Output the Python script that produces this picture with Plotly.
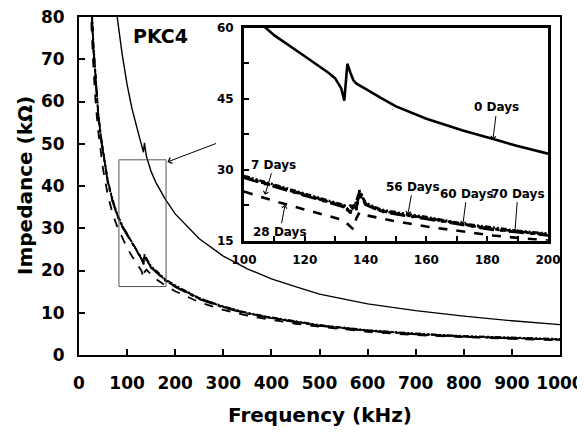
import plotly.graph_objects as go

# ---------------- data ----------------
# Inset (fine frequency sampling around the resonance)
freq_khz = [100, 110, 120, 128, 130, 132, 133, 134, 135, 136, 137, 138, 140, 145, 150, 160,
            172, 182, 190, 200, 210]

z_0_days = [64, 58.4, 54, 50.4, 49.3, 47.2, 44.6, 52.4, 50.5, 48.9, 48.2, 47.8, 47.1, 45.2,
            43.4, 40.8, 38.3, 36.5, 35.0, 33.4, 31.8]
z_7_days = [28.5, 26.6, 24.8, 23.2, 22.9, 22.5, 22.3, 21.6, 20.8, 23.0, 21.5, 25.7, 22.8, 21.4,
            20.8, 19.8, 18.5, 17.5, 17.0, 16.3, 15.6]
z_28_days = [25.4, 23.4, 21.6, 20.2, 19.9, 19.5, 19.2, 18.6, 18.0, 17.4, 19.8, 21.0, 20.4, 19.7,
             19.1, 18.0, 16.9, 16.1, 15.6, 15.1, 14.5]
z_56_days = [28.3, 26.4, 24.6, 23.0, 22.7, 22.3, 22.1, 21.4, 21.2, 22.6, 21.9, 25.2, 22.6, 21.2,
             20.6, 19.6, 18.3, 17.3, 16.8, 16.1, 15.4]
z_60_days = [28.7, 26.8, 25.0, 23.4, 23.1, 22.7, 22.5, 21.8, 22.4, 21.6, 23.6, 25.4, 23.0, 21.6,
             21.0, 20.0, 18.6, 17.7, 17.1, 16.5, 15.8]
z_70_days = [28.4, 26.5, 24.7, 23.1, 22.8, 22.4, 22.2, 21.5, 21.9, 22.2, 22.6, 24.8, 22.7, 21.3,
             20.7, 19.7, 18.4, 17.4, 16.9, 16.2, 15.5]

# Main plot (coarser sampling over the full range)
freq_main = [20, 25, 30, 35, 40, 45, 50, 60, 70, 80, 90, 100, 110, 120, 130, 134, 136, 140,
             150, 160, 180, 200, 250, 300, 350, 400, 450, 500, 600, 700, 800, 900, 1000]

zm_0_days = [280, 230, 195, 168, 148, 132, 119, 100, 88, 79, 71, 64, 58.4, 54, 49.6, 48.0, 50.2,
             47.1, 43.4, 40.8, 36.8, 33.4, 27.5, 23.4, 20.4, 18.0, 16.2, 14.4, 12.1, 10.5, 9.2,
             8.1, 7.2]
zm_7_days = [110, 85, 73, 64, 57, 52, 48, 41, 36.5, 33, 30.5, 28.5, 26.6, 24.8, 22.9, 21.4, 23.6,
             22.6, 20.8, 19.8, 17.7, 16.3, 13.4, 11.4, 9.9, 8.8, 7.9, 7.0, 5.8, 5.0, 4.4, 4.0, 3.7]
zm_28_days = [100, 80, 68, 59, 53, 48, 44, 37.8, 33.4, 30.2, 27.6, 25.4, 23.4, 21.6, 19.9, 18.2,
              19.6, 20.2, 19.1, 18.0, 16.4, 15.1, 12.5, 10.7, 9.3, 8.3, 7.4, 6.7, 5.5, 4.7, 4.2,
              3.8, 3.5]
zm_56_days = [108, 84, 72, 63, 56.5, 51.5, 47.6, 40.7, 36.2, 32.8, 30.3, 28.3, 26.4, 24.6, 22.7,
              21.6, 23.1, 22.4, 20.6, 19.6, 17.5, 16.1, 13.2, 11.2, 9.8, 8.7, 7.8, 6.9, 5.7, 4.9,
              4.3, 3.9, 3.6]
zm_60_days = [112, 86, 74, 65, 57.5, 52.5, 48.3, 41.3, 36.8, 33.2, 30.7, 28.7, 26.8, 25.0, 23.1,
              22.0, 23.8, 22.9, 21.0, 20.0, 17.9, 16.5, 13.5, 11.5, 10.0, 8.9, 8.0, 7.1, 5.9, 5.1,
              4.5, 4.1, 3.8]
zm_70_days = [109, 84.5, 72.5, 63.5, 56.8, 51.8, 47.8, 40.9, 36.4, 32.9, 30.4, 28.4, 26.5, 24.7,
              22.8, 21.8, 23.3, 22.5, 20.7, 19.7, 17.6, 16.2, 13.3, 11.3, 9.85, 8.75, 7.85, 6.95,
              5.75, 4.95, 4.35, 3.95, 3.65]

series_names = ["0 Days", "7 Days", "28 Days", "56 Days", "60 Days", "70 Days"]
inset_values = [z_0_days, z_7_days, z_28_days, z_56_days, z_60_days, z_70_days]
main_values = [zm_0_days, zm_7_days, zm_28_days, zm_56_days, zm_60_days, zm_70_days]
series_dash = ["solid", "dashdot", "dash", "longdashdot", "6px,2px,2px,2px,2px,2px", "dot"]
main_width = [1.4, 1.8, 1.8, 1.8, 1.8, 1.8]

main_x_ticks = [0, 100, 200, 300, 400, 500, 600, 700, 800, 900, 1000]
main_y_ticks = [0, 10, 20, 30, 40, 50, 60, 70, 80]
inset_x_ticks = [100, 110, 120, 130, 140, 150, 160, 170, 180, 190, 200]
inset_x_labels = ["100", "", "120", "", "140", "", "160", "", "180", "", "200"]
inset_y_ticks = [15, 22.5, 30, 37.5, 45, 52.5, 60]
inset_y_labels = ["15", "", "30", "", "45", "", "60"]

# zoom box drawn on the main plot (kHz, kOhm)
zoom_box_x = [83, 181]
zoom_box_y = [16.2, 46.2]

# label arrow tips in the inset: (name, freq, impedance, ax, ay)
inset_labels = [("0 Days", 181.9, 36.4, 4, -32),
                ("7 Days", 106.9, 24.7, 9, -30),
                ("28 Days", 113.5, 22.6, -5, 27),
                ("56 Days", 153.9, 20.5, 5, -28),
                ("60 Days", 172.0, 18.4, 4, -31),
                ("70 Days", 189.1, 16.7, 3, -39)]

FONT = "DejaVu Sans"

fig = go.Figure()

for name, vals, dash, w in zip(series_names, main_values, series_dash, main_width):
    fig.add_trace(go.Scatter(x=freq_main, y=vals, mode="lines", name=name,
                             line=dict(color="black", width=w, dash=dash),
                             xaxis="x", yaxis="y", showlegend=False))
for name, vals, dash in zip(series_names, inset_values, series_dash):
    fig.add_trace(go.Scatter(x=freq_khz, y=vals, mode="lines", name=name,
                             line=dict(color="black", width=2.6, dash=dash),
                             xaxis="x2", yaxis="y2", showlegend=False))

fig.update_layout(
    width=585, height=433,
    margin=dict(l=71, r=33, t=9, b=86),
    paper_bgcolor="white", plot_bgcolor="white",
    font=dict(family=FONT, color="black"),
    xaxis=dict(domain=[0, 1], range=[0, 1000], tickvals=main_x_ticks,
               ticks="inside", ticklen=6, tickwidth=1.5, tickcolor="black",
               showline=True, linecolor="black", linewidth=2, mirror=True,
               showgrid=False, zeroline=False, ticklabelstandoff=12, automargin=False,
               ticklabeloverflow="allow",
               tickfont=dict(family=FONT, size=17, weight="bold")),
    yaxis=dict(domain=[0, 1], range=[0, 80], tickvals=main_y_ticks,
               ticks="inside", ticklen=6, tickwidth=1.5, tickcolor="black",
               showline=True, linecolor="black", linewidth=2, mirror=True,
               showgrid=False, zeroline=False, ticklabelstandoff=9, automargin=False,
               ticklabeloverflow="allow",
               tickfont=dict(family=FONT, size=17, weight="bold")),
    xaxis2=dict(domain=[0.343, 0.975], anchor="y2", range=[100, 200],
                tickvals=inset_x_ticks, ticktext=inset_x_labels,
                ticks="inside", ticklen=5, tickwidth=1.5, tickcolor="black",
                showline=True, linecolor="black", linewidth=3, mirror=True,
                showgrid=False, zeroline=False, ticklabelstandoff=6, automargin=False,
                tickfont=dict(family=FONT, size=12, weight="bold")),
    yaxis2=dict(domain=[0.338, 0.968], anchor="x2", range=[15, 60],
                tickvals=inset_y_ticks, ticktext=inset_y_labels,
                ticks="inside", ticklen=5, tickwidth=1.5, tickcolor="black",
                showline=True, linecolor="black", linewidth=3, mirror=True,
                showgrid=False, zeroline=False, ticklabelstandoff=5, automargin=False,
                tickfont=dict(family=FONT, size=12, weight="bold")),
)

# axis titles
fig.add_annotation(xref="paper", yref="paper", x=0.5, y=(354 - 414) / 340,
                   text="Frequency (kHz)", showarrow=False, xanchor="center", yanchor="middle",
                   font=dict(family=FONT, size=20, weight="bold"))
fig.add_annotation(xref="paper", yref="paper", x=(25 - 79) / 481, y=0.5,
                   text="Impedance (kΩ)", showarrow=False, textangle=-90,
                   xanchor="center", yanchor="middle",
                   font=dict(family=FONT, size=20, weight="bold"))

# zoom rectangle on main plot
fig.add_shape(type="rect", xref="x", yref="y",
              x0=zoom_box_x[0], x1=zoom_box_x[1], y0=zoom_box_y[0], y1=zoom_box_y[1],
              line=dict(color="#555555", width=1), fillcolor="rgba(0,0,0,0)")

# arrow from inset to zoom box
fig.add_annotation(xref="x", yref="y", x=zoom_box_x[1] + 3, y=zoom_box_y[1] - 0.5,
                   ax=50, ay=-19, text="", showarrow=True,
                   arrowhead=4, arrowsize=1.2, arrowwidth=1, arrowcolor="black")

# PKC4 label
fig.add_annotation(xref="paper", yref="paper", x=(160 - 79) / 481, y=(354 - 33) / 340,
                   text="PKC4", showarrow=False, xanchor="center", yanchor="middle",
                   font=dict(family=FONT, size=19, weight="bold"))

for name, fx, zy, axp, ayp in inset_labels:
    fig.add_annotation(xref="x2", yref="y2", x=fx, y=zy, ax=axp, ay=ayp, text=name,
                       showarrow=True, arrowhead=4, arrowsize=1, arrowwidth=1,
                       arrowcolor="black", standoff=0,
                       font=dict(family=FONT, size=12, weight="bold"))

fig.write_html("out.html")
